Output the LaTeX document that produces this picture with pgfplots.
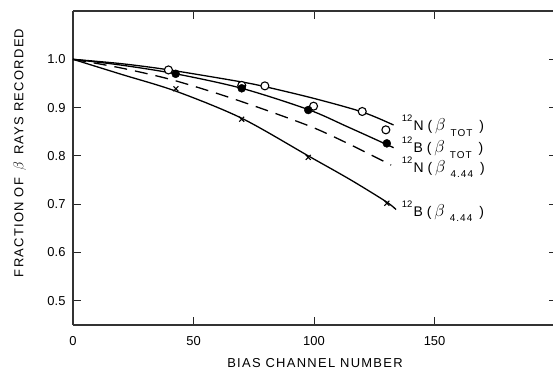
\documentclass[border=0pt]{standalone}
\usepackage{pgfplots}
\pgfplotsset{compat=1.18}
\usepackage{fontspec}
\setmainfont{Liberation Sans}
\newfontfamily\spaced{Liberation Sans}[LetterSpace=10]
\newcommand{\curvelab}[2]{{\fontsize{14}{14}\selectfont\raisebox{9bp}{\fontsize{9.5}{10}\selectfont 12}\hspace{1bp}#1\hspace{4bp}(\hspace{3bp}{\fontsize{16}{16}\selectfont$\beta$}\hspace{5bp}\raisebox{-5.6bp}{\fontsize{10}{10}\selectfont\spaced #2}\hspace{7bp})}}
\begin{document}
\begin{tikzpicture}
\begin{axis}[
  scale only axis, width=484bp, height=314bp,
  xmin=0, xmax=200.8, ymin=0.45, ymax=1.1,
  xtick={0,50,100,150}, ytick={0.5,0.6,0.7,0.8,0.9,1.0},
  yticklabel style={/pgf/number format/fixed,/pgf/number format/fixed zerofill,/pgf/number format/precision=1, xshift=-4bp},
  xticklabel style={yshift=-8bp},
  /pgf/number format/assume math mode=true,
  tick align=inside, major tick length=8bp,
  tick style={line width=1bp, black!85},
  axis line style={line width=1.4bp, black!80},
  separate axis lines,
  y axis line style={draw=none},
  ticklabel style={font=\fontsize{13}{15}\selectfont},
  xlabel={BIAS CHANNEL NUMBER},
  ylabel={FRACTION OF \,{\fontsize{15}{15}\selectfont$\beta$}\, RAYS RECORDED},
  label style={font=\fontsize{13}{15}\selectfont\spaced},
  xlabel style={at={(axis description cs:0.5,0)}, anchor=center, yshift=-38bp},
  ylabel style={at={(axis description cs:-0.11,0.548)}, anchor=center},
  clip=false,
]
\draw[line width=1.4bp, black!80] (rel axis cs:0,0) -- (rel axis cs:0,1);
% curves
\addplot[black, line width=1.3bp, smooth, tension=0.5] coordinates {(0,1.0) (20,0.991) (40,0.978) (69,0.954) (80,0.943) (100,0.919) (120,0.891) (133,0.864)};
\addplot[black, line width=1.3bp, smooth, tension=0.5] coordinates {(0,1.0) (20,0.988) (42.6,0.970) (70,0.940) (97.6,0.896) (113.6,0.861) (130,0.824) (133,0.817)};
\addplot[black, line width=1.3bp, dash pattern=on 13bp off 8bp, smooth, tension=0.5] coordinates {(0,1.0) (20,0.982) (40,0.959) (60,0.929) (80,0.895) (100,0.858) (116,0.821) (132,0.781)};
\addplot[black, line width=1.3bp, smooth, tension=0.5] coordinates {(0,1.0) (20,0.969) (42.7,0.934) (70,0.878) (98,0.799) (115,0.751) (130,0.705) (134,0.689)};
% data points
\addplot[only marks, mark=*, mark size=4bp, mark options={fill=white, draw=black, line width=1.1bp}] coordinates {(39.6,0.978) (70,0.946) (79.6,0.945) (99.8,0.903) (120,0.892) (129.8,0.854)};
\addplot[only marks, mark=*, mark size=4bp, mark options={fill=black, draw=black}] coordinates {(42.6,0.970) (70,0.940) (97.6,0.895) (130.2,0.826)};
\addplot[only marks, mark=x, mark size=3.5bp, mark options={line width=1.1bp, black}] coordinates {(42.7,0.939) (70,0.876) (97.6,0.797) (130.2,0.702)};
% labels
\node[anchor=base west, inner sep=0pt] at (axis cs:136.4,0.852) {\curvelab{N}{TOT}};
\node[anchor=base west, inner sep=0pt] at (axis cs:136.4,0.807) {\curvelab{B}{TOT}};
\node[anchor=base west, inner sep=0pt] at (axis cs:136.4,0.766) {\curvelab{N}{4.44}};
\node[anchor=base west, inner sep=0pt] at (axis cs:136.4,0.675) {\curvelab{B}{4.44}};
\end{axis}
\pgfresetboundingbox
\path[use as bounding box] ([xshift=-73bp,yshift=-45bp]current axis.south west) rectangle ++(553bp,370bp);
\end{tikzpicture}
\end{document}
